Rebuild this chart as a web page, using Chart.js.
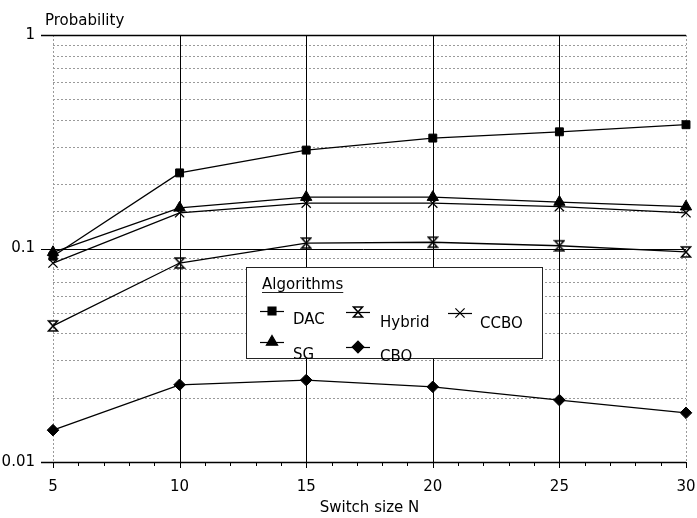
<!DOCTYPE html>
<html>
<head>
<meta charset="utf-8">
<script src="https://cdn.jsdelivr.net/npm/chart.js@4/dist/chart.umd.min.js"></script>
<style>
  html, body { margin: 0; padding: 0; background: #fff; }
  canvas { display: block; }
</style>
</head>
<body>
<canvas id="c" width="697" height="518"></canvas>
<script>
// ---- data ----
const switchSizes = [5, 10, 15, 20, 25, 30];
const dac    = [0.092, 0.226, 0.289, 0.329, 0.352, 0.380];
const hybrid = [0.0434, 0.0855, 0.106, 0.107, 0.103, 0.0964];
const ccbo   = [0.0855, 0.147, 0.163, 0.163, 0.157, 0.147];
const sg     = [0.096, 0.155, 0.174, 0.174, 0.165, 0.157];
const cbo    = [0.0141, 0.0230, 0.0242, 0.0225, 0.0195, 0.0170];
const yMajorTicks = [0.01, 0.1, 1];
const yTickLabels = ['0.01', '0.1', '1'];
const xTickValues = [5, 10, 15, 20, 25, 30];
const seriesNames = ['DAC', 'Hybrid', 'CCBO', 'SG', 'CBO'];

const FONT = "'DejaVu Sans', sans-serif";

function hourglass() {
  const c = document.createElement('canvas');
  c.width = 12; c.height = 14;
  const g = c.getContext('2d');
  g.strokeStyle = '#000'; g.lineWidth = 1.6;
  g.lineJoin = 'miter';
  g.beginPath();
  g.moveTo(1.5, 2); g.lineTo(10.5, 2); g.lineTo(1.5, 12); g.lineTo(10.5, 12); g.closePath();
  g.stroke();
  return c;
}
const hourglassImg = hourglass();

const styles = {
  DAC:    { pointStyle: 'rect', radius: 5.6 },
  Hybrid: { pointStyle: hourglassImg, radius: 6 },
  CCBO:   { pointStyle: 'crossRot', radius: 6.5 },
  SG:     { pointStyle: 'triangle', radius: 6.5 },
  CBO:    { pointStyle: 'rectRot', radius: 5.8 }
};
const seriesValues = { DAC: dac, Hybrid: hybrid, CCBO: ccbo, SG: sg, CBO: cbo };

const datasets = seriesNames.map(name => ({
  label: name,
  data: switchSizes.map((x, i) => ({ x: x, y: seriesValues[name][i] })),
  borderColor: '#000',
  backgroundColor: '#000',
  borderWidth: 1.3,
  pointStyle: styles[name].pointStyle,
  pointRadius: styles[name].radius,
  pointBorderWidth: name === 'CCBO' ? 1.3 : 1,
  pointBackgroundColor: '#000',
  pointBorderColor: '#000',
  tension: 0,
  fill: false,
  clip: false
}));

function isMajor(v) {
  return yMajorTicks.some(t => Math.abs(Math.log10(v) - Math.log10(t)) < 1e-6);
}

const paperGrid = {
  id: 'paperGrid',
  beforeDatasetsDraw(chart) {
    const { ctx, chartArea: a, scales: { x, y } } = chart;
    ctx.save();
    ctx.lineWidth = 1;
    // minor dashed horizontal lines from the log scale's own ticks
    ctx.strokeStyle = '#9a9a9a';
    ctx.setLineDash([2, 2]);
    y.ticks.forEach(t => {
      if (isMajor(t.value)) return;
      const py = Math.round(y.getPixelForValue(t.value)) + 0.5;
      ctx.beginPath(); ctx.moveTo(a.left, py); ctx.lineTo(a.right, py); ctx.stroke();
    });
    // dashed left / right borders
    [xTickValues[0], xTickValues[xTickValues.length - 1]].forEach(v => {
      const px = Math.round(x.getPixelForValue(v)) + 0.5;
      ctx.beginPath(); ctx.moveTo(px, a.top); ctx.lineTo(px, a.bottom); ctx.stroke();
    });
    ctx.setLineDash([]);
    ctx.strokeStyle = '#000';
    // solid vertical lines
    xTickValues.slice(1, -1).forEach(v => {
      const px = Math.round(x.getPixelForValue(v)) + 0.5;
      ctx.beginPath(); ctx.moveTo(px, a.top); ctx.lineTo(px, a.bottom + 6); ctx.stroke();
    });
    // solid horizontal major lines with left tick marks
    yMajorTicks.forEach(v => {
      const py = Math.round(y.getPixelForValue(v)) + 0.5;
      ctx.lineWidth = (v === 0.1) ? 1 : 1.5;
      ctx.beginPath(); ctx.moveTo(a.left - 12, py); ctx.lineTo(a.right, py); ctx.stroke();
    });
    ctx.lineWidth = 1;
    // minor ticks along the bottom axis
    for (let v = xTickValues[0]; v <= xTickValues[xTickValues.length - 1]; v++) {
      const px = Math.round(x.getPixelForValue(v)) + 0.5;
      const len = (v % 5 === 0) ? 6 : 4;
      ctx.beginPath(); ctx.moveTo(px, a.bottom); ctx.lineTo(px, a.bottom + len); ctx.stroke();
    }
    ctx.restore();
  },
  afterDraw(chart) {
    const { ctx } = chart;
    ctx.save();
    // y-axis caption
    ctx.fillStyle = '#000';
    ctx.font = '15px ' + FONT;
    ctx.textAlign = 'left';
    ctx.textBaseline = 'alphabetic';
    ctx.fillText('Probability', 45, 25);

    // legend box
    const box = { l: 246, t: 267, r: 542, b: 358 };
    ctx.fillStyle = '#fff';
    ctx.fillRect(box.l, box.t, box.r - box.l, box.b - box.t);
    ctx.strokeStyle = '#222';
    ctx.lineWidth = 1;
    ctx.strokeRect(box.l + 0.5, box.t + 0.5, box.r - box.l, box.b - box.t);

    ctx.fillStyle = '#000';
    ctx.font = '15px ' + FONT;
    ctx.fillText('Algorithms', 262, 289);
    const w = ctx.measureText('Algorithms').width;
    ctx.beginPath(); ctx.moveTo(262, 292.5); ctx.lineTo(262 + w, 292.5); ctx.stroke();

    const items = [
      { name: 'DAC',    mx: 272, my: 311, tx: 293, ty: 320 },
      { name: 'Hybrid', mx: 358, my: 312, tx: 380, ty: 323 },
      { name: 'CCBO',   mx: 460, my: 313, tx: 480, ty: 324 },
      { name: 'SG',     mx: 272, my: 342, tx: 293, ty: 355 },
      { name: 'CBO',    mx: 358, my: 347, tx: 380, ty: 357 }
    ];
    items.forEach(it => {
      const ds = chart.data.datasets[seriesNames.indexOf(it.name)];
      ctx.strokeStyle = '#000';
      ctx.fillStyle = '#000';
      ctx.lineWidth = 1.2;
      ctx.beginPath(); ctx.moveTo(it.mx - 12, it.my + 0.5); ctx.lineTo(it.mx + 12, it.my + 0.5); ctx.stroke();
      Chart.helpers.drawPoint(ctx, {
        pointStyle: ds.pointStyle,
        radius: ds.pointRadius,
        borderWidth: ds.pointBorderWidth,
        rotation: 0
      }, it.mx, it.my);
      ctx.fillStyle = '#000';
      ctx.textBaseline = 'middle';
      ctx.font = '15px ' + FONT;
      ctx.fillText(it.name, it.tx, it.ty);
    });
    ctx.restore();
  }
};

new Chart(document.getElementById('c'), {
  type: 'line',
  data: { datasets: datasets },
  options: {
    responsive: false,
    animation: false,
    devicePixelRatio: 1,
    layout: { padding: { top: 35, right: 11, left: 0, bottom: 0 } },
    plugins: { legend: { display: false }, tooltip: { enabled: false } },
    scales: {
      x: {
        type: 'linear',
        min: xTickValues[0],
        max: xTickValues[xTickValues.length - 1],
        afterBuildTicks: s => { s.ticks = xTickValues.map(v => ({ value: v })); },
        ticks: { color: '#000', font: { family: FONT, size: 15 }, padding: 16, maxRotation: 0, autoSkip: false },
        grid: { display: false, drawTicks: false },
        border: { display: false },
        title: { display: true, text: 'Switch size N', color: '#000', font: { family: FONT, size: 15 }, padding: { top: 0, bottom: 1 } },
        afterFit: s => { s.height = 56; s.paddingLeft = 0; s.paddingRight = 0; }
      },
      y: {
        type: 'logarithmic',
        min: yMajorTicks[0],
        max: yMajorTicks[yMajorTicks.length - 1],
        ticks: {
          color: '#000',
          font: { family: FONT, size: 15 },
          padding: 18,
          autoSkip: false,
          callback: v => {
            const i = yMajorTicks.findIndex(t => Math.abs(Math.log10(v) - Math.log10(t)) < 1e-6);
            return i >= 0 ? yTickLabels[i] : '';
          }
        },
        grid: { display: false, drawTicks: false },
        border: { display: false },
        afterFit: s => { s.width = 53; s.paddingTop = 0; s.paddingBottom = 0; }
      }
    }
  },
  plugins: [paperGrid]
});
</script>
</body>
</html>
